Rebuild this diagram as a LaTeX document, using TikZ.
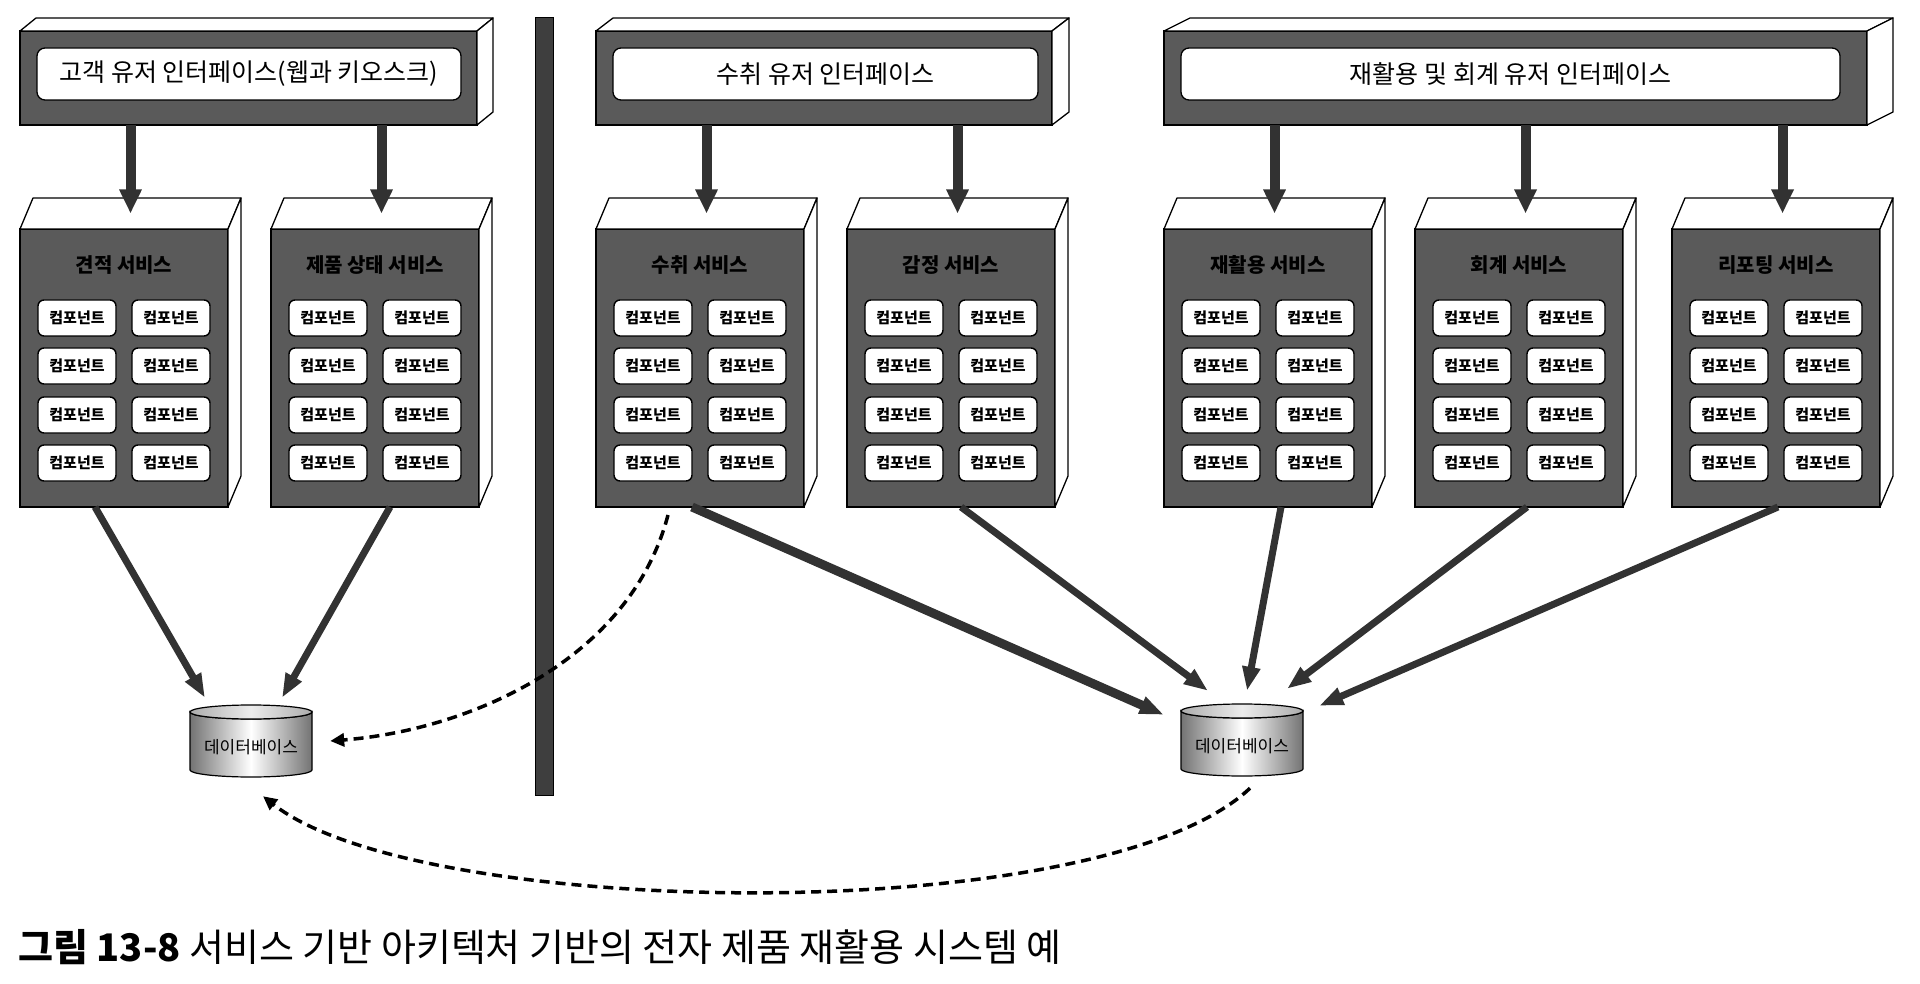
\documentclass[tikz,border=0pt]{standalone}
\usepackage{fontspec}
\setmainfont{Noto Sans CJK KR}
\usetikzlibrary{arrows.meta,calc}
\definecolor{boxgray}{RGB}{90,90,90}
\definecolor{arrowgray}{RGB}{50,50,50}
\definecolor{divgray}{RGB}{62,62,62}
\definecolor{dbdark}{RGB}{115,115,115}
\tikzset{
  face/.style={draw=black, line width=1.3pt, fill=white, line join=round},
  frontface/.style={draw=black, line width=1.3pt, fill=boxgray, inner sep=0pt, outer sep=0pt, anchor=north west},
  uibox/.style={draw=black, line width=1.3pt, fill=white, rounded corners=8pt, inner sep=0pt},
  comp/.style={draw=black, line width=1.4pt, fill=white, rounded corners=6pt, minimum width=78pt, minimum height=36pt, inner sep=0pt, font=\bfseries\fontsize{15}{17}\selectfont},
  svctitle/.style={font=\bfseries\fontsize{20}{22}\selectfont, text=black},
  downarrow/.style={draw=arrowgray, line width=10pt, -{Triangle[width=21pt,length=24pt]}},
  dbarrow/.style={draw=arrowgray, line width=7pt, -{Triangle[width=17pt,length=24pt]}},
  dasharrow/.style={draw=black, line width=3.5pt, dash pattern=on 10pt off 6pt, -{Triangle[width=13pt,length=14pt]}},
}
\newcommand{\UIBar}[6]{%
  \node[frontface, minimum width={#3-#2}, minimum height=94pt] (#1) at (#2,31) {};
  \path[face] (#2,31) -- ({#2+#4},18) -- ({#3+#4},18) -- (#3,31) -- cycle;
  \path[face] (#3,31) -- ({#3+#4},18) -- ({#3+#4},112) -- (#3,125) -- cycle;
  \node[uibox, minimum width={#3-#5-#2-17}, minimum height=52pt, font=\fontsize{25}{28}\selectfont] (#1-ui) at ({(#2+17+#3-#5)/2},74) {#6};
}
\newcommand{\SvcBox}[3]{%
  \node[frontface, minimum width=208pt, minimum height=278pt] (#1) at (#2,229) {};
  \path[face] (#2,229) -- ({#2+13},198) -- ({#2+221},198) -- ({#2+208},229) -- cycle;
  \path[face] ({#2+208},229) -- ({#2+221},198) -- ({#2+221},476) -- ({#2+208},507) -- cycle;
  \coordinate (#1-top) at ({#2+110.5},213.5);
  \node[svctitle] (#1-title) at ({#2+104},265) {#3};
  \foreach \rw/\yy in {1/89,2/137,3/186,4/234}{
    \node[comp] (#1-\rw-1) at ({#2+57},{229+\yy}) {컴포넌트};
    \node[comp] (#1-\rw-2) at ({#2+151},{229+\yy}) {컴포넌트};
  }
}
\newcommand{\DBcyl}[3]{%
  \node[minimum width=122pt, minimum height=72pt, inner sep=0pt] (#1) at (#2,#3) {};
  \path[draw=black, line width=1.2pt, left color=dbdark, right color=dbdark, middle color=white]
    ({#2-61},{#3-29}) -- ({#2-61},{#3+29}) arc[start angle=180, end angle=0, x radius=61, y radius=7]
    -- ({#2+61},{#3-29}) arc[start angle=0, end angle=180, x radius=61, y radius=7] -- cycle;
  \path[draw=black, line width=1.2pt, left color=gray!65, right color=gray!65, middle color=gray!15]
    ({#2},{#3-29}) ellipse[x radius=61, y radius=7];
  \node[font=\fontsize{17}{18}\selectfont, inner sep=0pt] (#1-label) at (#2,{#3+6}) {데이터베이스};
}
\begin{document}
\begin{tikzpicture}[x=1pt,y=-1pt]
\useasboundingbox[fill=white] (0,0) rectangle (1920,984);

% user interface bars
\UIBar{bar1}{20}{477}{16}{16}{고객 유저 인터페이스(웹과 키오스크)}
\UIBar{bar2}{596}{1052}{17}{14}{수취 유저 인터페이스}
\UIBar{bar3}{1164}{1867}{26}{27}{재활용 및 회계 유저 인터페이스}

% divider
\node[draw=black, line width=1pt, fill=divgray, minimum width=18pt, minimum height=778pt, inner sep=0pt, anchor=north west] (divider) at (535,17) {};

% services
\SvcBox{s1}{20}{견적 서비스}
\SvcBox{s2}{271}{제품 상태 서비스}
\SvcBox{s3}{596}{수취 서비스}
\SvcBox{s4}{847}{감정 서비스}
\SvcBox{s5}{1164}{재활용 서비스}
\SvcBox{s6}{1415}{회계 서비스}
\SvcBox{s7}{1672}{리포팅 서비스}

% UI -> service arrows
\draw[downarrow] (s1-top |- bar1.south) -- (s1-top);
\draw[downarrow] (s2-top |- bar1.south) -- (s2-top);
\draw[downarrow] (s3-top |- bar2.south) -- (s3-top);
\draw[downarrow] (s4-top |- bar2.south) -- (s4-top);
\draw[downarrow] (s5-top |- bar3.south) -- (s5-top);
\draw[downarrow] (s6-top |- bar3.south) -- (s6-top);
\draw[downarrow] (s7-top |- bar3.south) -- (s7-top);

% databases
\DBcyl{db1}{251}{741}
\DBcyl{db2}{1242}{740}

% service -> database arrows
\draw[dbarrow] ([xshift=-29pt]s1.south) -- ([xshift=-46pt,yshift=7pt]db1.north);
\draw[dbarrow] ([xshift=15pt]s2.south) -- ([xshift=31pt,yshift=7pt]db1.north);
\draw[dbarrow, line width=9pt] ([xshift=-8pt]s3.south) -- ([xshift=-17pt,yshift=-11pt]db2.north west);
\draw[dbarrow] ([xshift=10pt]s4.south) -- ([xshift=-34pt,yshift=13pt]db2.north);
\draw[dbarrow] ([xshift=13pt]s5.south) -- ([xshift=5pt,yshift=13pt]db2.north);
\draw[dbarrow] ([xshift=8pt]s6.south) -- ([xshift=45pt,yshift=15pt]db2.north);
\draw[dbarrow] ([xshift=2pt]s7.south) -- ([xshift=16pt,yshift=-2pt]db2.north east);

% dashed links
\draw[dasharrow] ([xshift=-32pt,yshift=-8pt]s3.south) .. controls (630,660) and (470,730) .. ([xshift=18pt]db1.east);
\draw[dasharrow] ([xshift=8pt,yshift=-12pt]db2.south) .. controls (1100,930) and (420,920) .. ([xshift=12pt,yshift=-19pt]db1.south);

% caption
\node[anchor=west, font=\fontsize{38}{42}\selectfont, inner sep=0pt] (caption) at (18,947) {\textbf{그림 13-8} 서비스 기반 아키텍처 기반의 전자 제품 재활용 시스템 예};
\end{tikzpicture}
\end{document}
